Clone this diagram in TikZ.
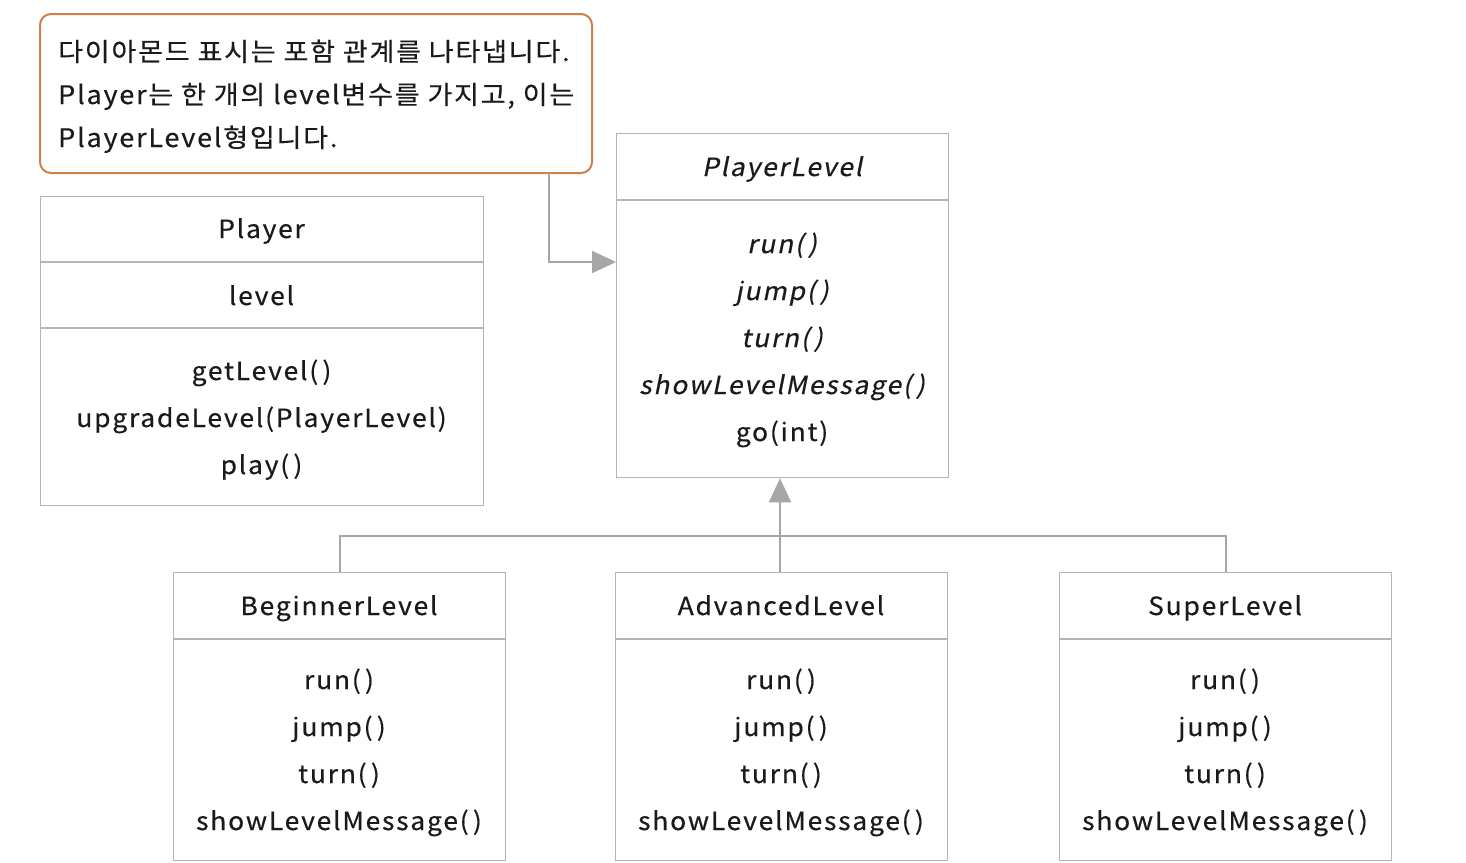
\documentclass[tikz,border=0pt]{standalone}
\usepackage{fontspec}
\setmainfont{Noto Sans CJK KR}[LetterSpace=7,FakeStretch=1.06,FakeBold=0.4]
\newfontfamily\slantfont{Noto Sans CJK KR}[LetterSpace=7,FakeStretch=1.06,FakeBold=0.4,FakeSlant=0.2]
\usetikzlibrary{arrows.meta}
\definecolor{boxgray}{HTML}{B4B4B4}
\definecolor{arrgray}{HTML}{A6A6A6}
\definecolor{noteorange}{HTML}{D0804A}
\definecolor{txt}{HTML}{1A1A1A}
\begin{document}
\begin{tikzpicture}[x=1pt,y=-1pt,
  box/.style={draw=boxgray, line width=1.3pt},
  divider/.style={draw=boxgray, line width=1.3pt},
  lbl/.style={font=\fontsize{25}{30}\selectfont, text=txt, inner sep=0pt, anchor=base},
  ilbl/.style={lbl, font=\fontsize{25}{30}\selectfont\slantfont},
  note/.style={font=\fontsize{25.5}{43}\selectfont, text=txt, inner sep=0pt, anchor=base west},
  conn/.style={draw=arrgray, line width=2pt},
  tip/.style={-{Triangle[length=24pt,width=22pt]}, draw=arrgray, line width=2pt}]
\useasboundingbox (0,0) rectangle (1466,862);
\fill[white] (0,0) rectangle (1466,862);

% callout
\draw[draw=noteorange, line width=2pt, rounded corners=11pt] (40,14) rectangle (592,173);
\node[note] (n1) at (58,61) {다이아몬드 표시는 포함 관계를 나타냅니다.};
\node[note] (n2) at (58,104) {Player는 한 개의 level변수를 가지고, 이는};
\node[note] (n3) at (58,147) {PlayerLevel형입니다.};
\coordinate (noteout) at (549,173);

% Player
\node[box, minimum width=443pt, minimum height=309pt, anchor=north west, inner sep=0pt] (player) at (40,196) {};
\draw[divider] (40,262) -- (483,262);
\draw[divider] (40,328) -- (483,328);
\node[lbl] (pt) at (261.5,238) {Player};
\node[lbl] (pa) at (261.5,305) {level};
\node[lbl] (pm1) at (261.5,380) {getLevel(\,)};
\node[lbl] (pm2) at (261.5,427) {upgradeLevel(PlayerLevel)};
\node[lbl] (pm3) at (261.5,474) {play(\,)};

% PlayerLevel
\node[box, minimum width=332pt, minimum height=344pt, anchor=north west, inner sep=0pt] (pl) at (616,133) {};
\draw[divider] (616,200) -- (948,200);
\node[ilbl] (plt) at (782,176) {PlayerLevel};
\node[ilbl] (plm1) at (782,253) {run(\,)};
\node[ilbl] (plm2) at (782,300) {jump(\,)};
\node[ilbl] (plm3) at (782,347) {turn(\,)};
\node[ilbl] (plm4) at (782,394) {showLevelMessage(\,)};
\node[lbl] (plm5) at (782,441) {go(int)};

% note connector
\coordinate (plin) at (616,262);
\draw[tip] (noteout) |- (plin);

% subclasses
\foreach \nm/\x/\ttl in {bl/173/BeginnerLevel, al/615/AdvancedLevel, sl/1059/SuperLevel}{
  \node[box, minimum width=332pt, minimum height=288pt, anchor=north west, inner sep=0pt] (\nm) at (\x,572) {};
  \draw[divider] (\x,639) -- ({\x+332},639);
  \node[lbl] (\nm t) at ({\x+166},615) {\ttl};
  \node[lbl] (\nm m1) at ({\x+166},689) {run(\,)};
  \node[lbl] (\nm m2) at ({\x+166},736) {jump(\,)};
  \node[lbl] (\nm m3) at ({\x+166},783) {turn(\,)};
  \node[lbl] (\nm m4) at ({\x+166},830) {showLevelMessage(\,)};
}

% inheritance
\coordinate (join) at (780,536);
\draw[conn] (bl.north) |- (join);
\draw[conn] (sl.north) |- (join);
\draw[tip] (al.north -| join) -- (join |- pl.south);
\end{tikzpicture}
\end{document}
